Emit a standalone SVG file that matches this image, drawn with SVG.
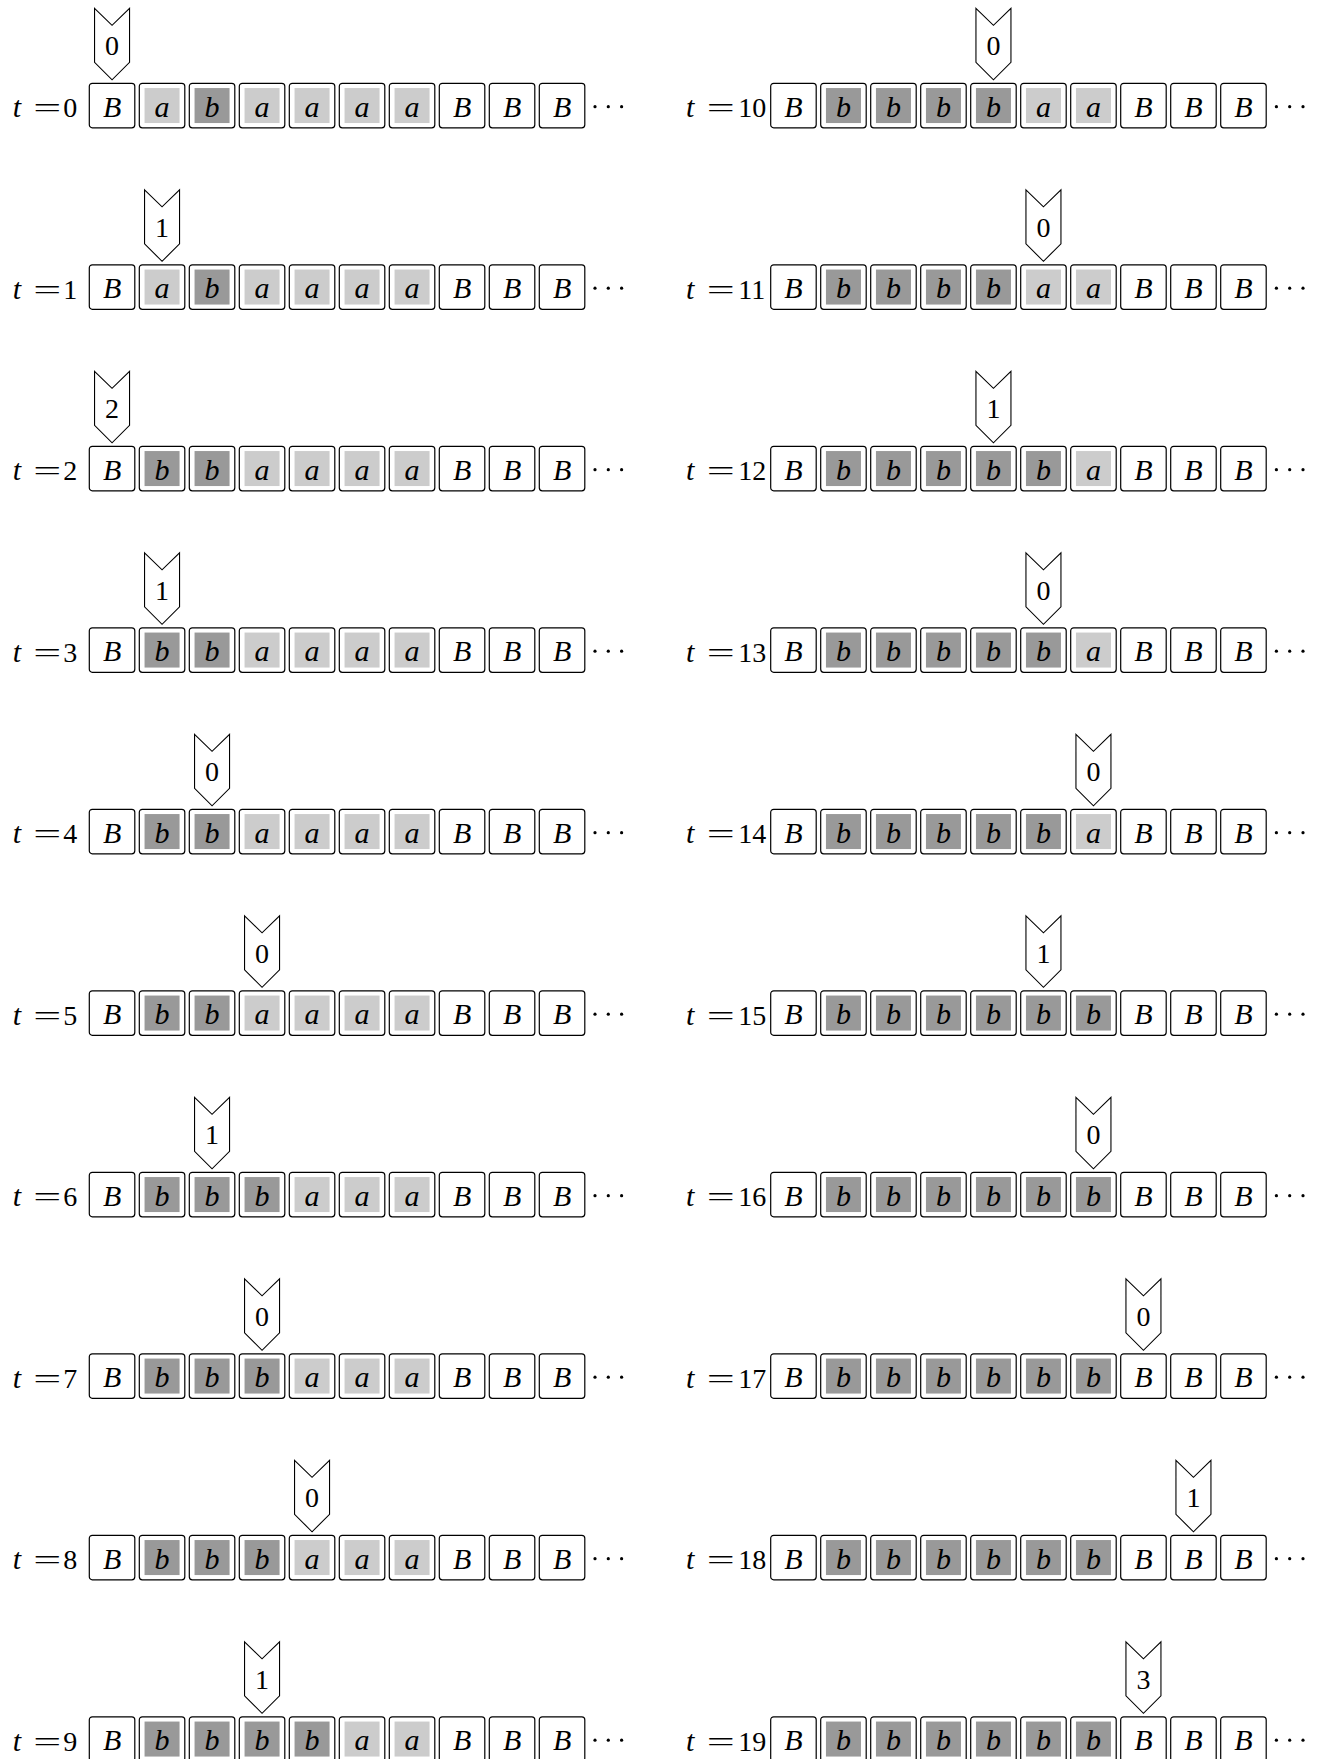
<svg xmlns="http://www.w3.org/2000/svg" xmlns:xlink="http://www.w3.org/1999/xlink" width="1326" height="1759" viewBox="0 0 1326 1759">
<style>
.box{fill:#fff;stroke:#000;stroke-width:1.2}
.fa{fill:#cccccc}
.fb{fill:#999999}
.ptr{fill:#fff;stroke:#000;stroke-width:1.1;stroke-linejoin:miter}
text{font-family:"Liberation Serif","DejaVu Serif",serif;font-size:28px;fill:#000}
.s{font-style:italic;text-anchor:middle;font-size:30px}
.it{font-style:italic;font-size:30px}
.mid{text-anchor:middle}
.dot{fill:#000}
</style>
<defs>
<g id="tape">
<rect class="box" x="0" y="0" width="45.5" height="44.5" rx="3"/>
<rect class="box" x="50" y="0" width="45.5" height="44.5" rx="3"/>
<rect class="box" x="100" y="0" width="45.5" height="44.5" rx="3"/>
<rect class="box" x="150" y="0" width="45.5" height="44.5" rx="3"/>
<rect class="box" x="200" y="0" width="45.5" height="44.5" rx="3"/>
<rect class="box" x="250" y="0" width="45.5" height="44.5" rx="3"/>
<rect class="box" x="300" y="0" width="45.5" height="44.5" rx="3"/>
<rect class="box" x="350" y="0" width="45.5" height="44.5" rx="3"/>
<rect class="box" x="400" y="0" width="45.5" height="44.5" rx="3"/>
<rect class="box" x="450" y="0" width="45.5" height="44.5" rx="3"/>
</g>
<rect id="ia" class="fa" x="5.25" y="4.75" width="35" height="35"/>
<rect id="ib" class="fb" x="5.25" y="4.75" width="35" height="35"/>
<g id="dots" class="dot"><circle cx="505.7" cy="23.4" r="1.6"/><circle cx="519" cy="23.4" r="1.6"/><circle cx="532.3" cy="23.4" r="1.6"/></g>
<polygon id="ptr" class="ptr" points="5.25,-75 22.75,-58 40.25,-75 40.25,-21 22.75,-3.5 5.25,-21"/>
</defs>

<g id="row-t0" transform="translate(89.3,83.3)">
<text class="it" x="-76.6" y="34">t</text><text x="-56" y="34" textLength="28" lengthAdjust="spacingAndGlyphs">=</text><text x="-26" y="34">0</text>
<use href="#tape"/>
<use href="#ia" x="50"/><use href="#ib" x="100"/><use href="#ia" x="150"/><use href="#ia" x="200"/><use href="#ia" x="250"/><use href="#ia" x="300"/>
<text class="s" x="22.75" y="33.5">B</text><text class="s" x="72.75" y="33.5">a</text><text class="s" x="122.75" y="33.5">b</text><text class="s" x="172.75" y="33.5">a</text><text class="s" x="222.75" y="33.5">a</text><text class="s" x="272.75" y="33.5">a</text><text class="s" x="322.75" y="33.5">a</text><text class="s" x="372.75" y="33.5">B</text><text class="s" x="422.75" y="33.5">B</text><text class="s" x="472.75" y="33.5">B</text>
<use href="#dots"/>
<g id="head-t0" transform="translate(0,0)"><use href="#ptr"/><text class="mid" x="22.75" y="-28.3">0</text></g>
</g>

<g id="row-t1" transform="translate(89.3,264.8)">
<text class="it" x="-76.6" y="34">t</text><text x="-56" y="34" textLength="28" lengthAdjust="spacingAndGlyphs">=</text><text x="-26" y="34">1</text>
<use href="#tape"/>
<use href="#ia" x="50"/><use href="#ib" x="100"/><use href="#ia" x="150"/><use href="#ia" x="200"/><use href="#ia" x="250"/><use href="#ia" x="300"/>
<text class="s" x="22.75" y="33.5">B</text><text class="s" x="72.75" y="33.5">a</text><text class="s" x="122.75" y="33.5">b</text><text class="s" x="172.75" y="33.5">a</text><text class="s" x="222.75" y="33.5">a</text><text class="s" x="272.75" y="33.5">a</text><text class="s" x="322.75" y="33.5">a</text><text class="s" x="372.75" y="33.5">B</text><text class="s" x="422.75" y="33.5">B</text><text class="s" x="472.75" y="33.5">B</text>
<use href="#dots"/>
<g id="head-t1" transform="translate(50,0)"><use href="#ptr"/><text class="mid" x="22.75" y="-28.3">1</text></g>
</g>

<g id="row-t2" transform="translate(89.3,446.3)">
<text class="it" x="-76.6" y="34">t</text><text x="-56" y="34" textLength="28" lengthAdjust="spacingAndGlyphs">=</text><text x="-26" y="34">2</text>
<use href="#tape"/>
<use href="#ib" x="50"/><use href="#ib" x="100"/><use href="#ia" x="150"/><use href="#ia" x="200"/><use href="#ia" x="250"/><use href="#ia" x="300"/>
<text class="s" x="22.75" y="33.5">B</text><text class="s" x="72.75" y="33.5">b</text><text class="s" x="122.75" y="33.5">b</text><text class="s" x="172.75" y="33.5">a</text><text class="s" x="222.75" y="33.5">a</text><text class="s" x="272.75" y="33.5">a</text><text class="s" x="322.75" y="33.5">a</text><text class="s" x="372.75" y="33.5">B</text><text class="s" x="422.75" y="33.5">B</text><text class="s" x="472.75" y="33.5">B</text>
<use href="#dots"/>
<g id="head-t2" transform="translate(0,0)"><use href="#ptr"/><text class="mid" x="22.75" y="-28.3">2</text></g>
</g>

<g id="row-t3" transform="translate(89.3,627.8)">
<text class="it" x="-76.6" y="34">t</text><text x="-56" y="34" textLength="28" lengthAdjust="spacingAndGlyphs">=</text><text x="-26" y="34">3</text>
<use href="#tape"/>
<use href="#ib" x="50"/><use href="#ib" x="100"/><use href="#ia" x="150"/><use href="#ia" x="200"/><use href="#ia" x="250"/><use href="#ia" x="300"/>
<text class="s" x="22.75" y="33.5">B</text><text class="s" x="72.75" y="33.5">b</text><text class="s" x="122.75" y="33.5">b</text><text class="s" x="172.75" y="33.5">a</text><text class="s" x="222.75" y="33.5">a</text><text class="s" x="272.75" y="33.5">a</text><text class="s" x="322.75" y="33.5">a</text><text class="s" x="372.75" y="33.5">B</text><text class="s" x="422.75" y="33.5">B</text><text class="s" x="472.75" y="33.5">B</text>
<use href="#dots"/>
<g id="head-t3" transform="translate(50,0)"><use href="#ptr"/><text class="mid" x="22.75" y="-28.3">1</text></g>
</g>

<g id="row-t4" transform="translate(89.3,809.3)">
<text class="it" x="-76.6" y="34">t</text><text x="-56" y="34" textLength="28" lengthAdjust="spacingAndGlyphs">=</text><text x="-26" y="34">4</text>
<use href="#tape"/>
<use href="#ib" x="50"/><use href="#ib" x="100"/><use href="#ia" x="150"/><use href="#ia" x="200"/><use href="#ia" x="250"/><use href="#ia" x="300"/>
<text class="s" x="22.75" y="33.5">B</text><text class="s" x="72.75" y="33.5">b</text><text class="s" x="122.75" y="33.5">b</text><text class="s" x="172.75" y="33.5">a</text><text class="s" x="222.75" y="33.5">a</text><text class="s" x="272.75" y="33.5">a</text><text class="s" x="322.75" y="33.5">a</text><text class="s" x="372.75" y="33.5">B</text><text class="s" x="422.75" y="33.5">B</text><text class="s" x="472.75" y="33.5">B</text>
<use href="#dots"/>
<g id="head-t4" transform="translate(100,0)"><use href="#ptr"/><text class="mid" x="22.75" y="-28.3">0</text></g>
</g>

<g id="row-t5" transform="translate(89.3,990.8)">
<text class="it" x="-76.6" y="34">t</text><text x="-56" y="34" textLength="28" lengthAdjust="spacingAndGlyphs">=</text><text x="-26" y="34">5</text>
<use href="#tape"/>
<use href="#ib" x="50"/><use href="#ib" x="100"/><use href="#ia" x="150"/><use href="#ia" x="200"/><use href="#ia" x="250"/><use href="#ia" x="300"/>
<text class="s" x="22.75" y="33.5">B</text><text class="s" x="72.75" y="33.5">b</text><text class="s" x="122.75" y="33.5">b</text><text class="s" x="172.75" y="33.5">a</text><text class="s" x="222.75" y="33.5">a</text><text class="s" x="272.75" y="33.5">a</text><text class="s" x="322.75" y="33.5">a</text><text class="s" x="372.75" y="33.5">B</text><text class="s" x="422.75" y="33.5">B</text><text class="s" x="472.75" y="33.5">B</text>
<use href="#dots"/>
<g id="head-t5" transform="translate(150,0)"><use href="#ptr"/><text class="mid" x="22.75" y="-28.3">0</text></g>
</g>

<g id="row-t6" transform="translate(89.3,1172.3)">
<text class="it" x="-76.6" y="34">t</text><text x="-56" y="34" textLength="28" lengthAdjust="spacingAndGlyphs">=</text><text x="-26" y="34">6</text>
<use href="#tape"/>
<use href="#ib" x="50"/><use href="#ib" x="100"/><use href="#ib" x="150"/><use href="#ia" x="200"/><use href="#ia" x="250"/><use href="#ia" x="300"/>
<text class="s" x="22.75" y="33.5">B</text><text class="s" x="72.75" y="33.5">b</text><text class="s" x="122.75" y="33.5">b</text><text class="s" x="172.75" y="33.5">b</text><text class="s" x="222.75" y="33.5">a</text><text class="s" x="272.75" y="33.5">a</text><text class="s" x="322.75" y="33.5">a</text><text class="s" x="372.75" y="33.5">B</text><text class="s" x="422.75" y="33.5">B</text><text class="s" x="472.75" y="33.5">B</text>
<use href="#dots"/>
<g id="head-t6" transform="translate(100,0)"><use href="#ptr"/><text class="mid" x="22.75" y="-28.3">1</text></g>
</g>

<g id="row-t7" transform="translate(89.3,1353.8)">
<text class="it" x="-76.6" y="34">t</text><text x="-56" y="34" textLength="28" lengthAdjust="spacingAndGlyphs">=</text><text x="-26" y="34">7</text>
<use href="#tape"/>
<use href="#ib" x="50"/><use href="#ib" x="100"/><use href="#ib" x="150"/><use href="#ia" x="200"/><use href="#ia" x="250"/><use href="#ia" x="300"/>
<text class="s" x="22.75" y="33.5">B</text><text class="s" x="72.75" y="33.5">b</text><text class="s" x="122.75" y="33.5">b</text><text class="s" x="172.75" y="33.5">b</text><text class="s" x="222.75" y="33.5">a</text><text class="s" x="272.75" y="33.5">a</text><text class="s" x="322.75" y="33.5">a</text><text class="s" x="372.75" y="33.5">B</text><text class="s" x="422.75" y="33.5">B</text><text class="s" x="472.75" y="33.5">B</text>
<use href="#dots"/>
<g id="head-t7" transform="translate(150,0)"><use href="#ptr"/><text class="mid" x="22.75" y="-28.3">0</text></g>
</g>

<g id="row-t8" transform="translate(89.3,1535.3)">
<text class="it" x="-76.6" y="34">t</text><text x="-56" y="34" textLength="28" lengthAdjust="spacingAndGlyphs">=</text><text x="-26" y="34">8</text>
<use href="#tape"/>
<use href="#ib" x="50"/><use href="#ib" x="100"/><use href="#ib" x="150"/><use href="#ia" x="200"/><use href="#ia" x="250"/><use href="#ia" x="300"/>
<text class="s" x="22.75" y="33.5">B</text><text class="s" x="72.75" y="33.5">b</text><text class="s" x="122.75" y="33.5">b</text><text class="s" x="172.75" y="33.5">b</text><text class="s" x="222.75" y="33.5">a</text><text class="s" x="272.75" y="33.5">a</text><text class="s" x="322.75" y="33.5">a</text><text class="s" x="372.75" y="33.5">B</text><text class="s" x="422.75" y="33.5">B</text><text class="s" x="472.75" y="33.5">B</text>
<use href="#dots"/>
<g id="head-t8" transform="translate(200,0)"><use href="#ptr"/><text class="mid" x="22.75" y="-28.3">0</text></g>
</g>

<g id="row-t9" transform="translate(89.3,1716.8)">
<text class="it" x="-76.6" y="34">t</text><text x="-56" y="34" textLength="28" lengthAdjust="spacingAndGlyphs">=</text><text x="-26" y="34">9</text>
<use href="#tape"/>
<use href="#ib" x="50"/><use href="#ib" x="100"/><use href="#ib" x="150"/><use href="#ib" x="200"/><use href="#ia" x="250"/><use href="#ia" x="300"/>
<text class="s" x="22.75" y="33.5">B</text><text class="s" x="72.75" y="33.5">b</text><text class="s" x="122.75" y="33.5">b</text><text class="s" x="172.75" y="33.5">b</text><text class="s" x="222.75" y="33.5">b</text><text class="s" x="272.75" y="33.5">a</text><text class="s" x="322.75" y="33.5">a</text><text class="s" x="372.75" y="33.5">B</text><text class="s" x="422.75" y="33.5">B</text><text class="s" x="472.75" y="33.5">B</text>
<use href="#dots"/>
<g id="head-t9" transform="translate(150,0)"><use href="#ptr"/><text class="mid" x="22.75" y="-28.3">1</text></g>
</g>

<g id="row-t10" transform="translate(770.7,83.3)">
<text class="it" x="-84.7" y="34">t</text><text x="-64" y="34" textLength="28" lengthAdjust="spacingAndGlyphs">=</text><text x="-32.4" y="34">10</text>
<use href="#tape"/>
<use href="#ib" x="50"/><use href="#ib" x="100"/><use href="#ib" x="150"/><use href="#ib" x="200"/><use href="#ia" x="250"/><use href="#ia" x="300"/>
<text class="s" x="22.75" y="33.5">B</text><text class="s" x="72.75" y="33.5">b</text><text class="s" x="122.75" y="33.5">b</text><text class="s" x="172.75" y="33.5">b</text><text class="s" x="222.75" y="33.5">b</text><text class="s" x="272.75" y="33.5">a</text><text class="s" x="322.75" y="33.5">a</text><text class="s" x="372.75" y="33.5">B</text><text class="s" x="422.75" y="33.5">B</text><text class="s" x="472.75" y="33.5">B</text>
<use href="#dots"/>
<g id="head-t10" transform="translate(200,0)"><use href="#ptr"/><text class="mid" x="22.75" y="-28.3">0</text></g>
</g>

<g id="row-t11" transform="translate(770.7,264.8)">
<text class="it" x="-84.7" y="34">t</text><text x="-64" y="34" textLength="28" lengthAdjust="spacingAndGlyphs">=</text><text x="-32.4" y="34">11</text>
<use href="#tape"/>
<use href="#ib" x="50"/><use href="#ib" x="100"/><use href="#ib" x="150"/><use href="#ib" x="200"/><use href="#ia" x="250"/><use href="#ia" x="300"/>
<text class="s" x="22.75" y="33.5">B</text><text class="s" x="72.75" y="33.5">b</text><text class="s" x="122.75" y="33.5">b</text><text class="s" x="172.75" y="33.5">b</text><text class="s" x="222.75" y="33.5">b</text><text class="s" x="272.75" y="33.5">a</text><text class="s" x="322.75" y="33.5">a</text><text class="s" x="372.75" y="33.5">B</text><text class="s" x="422.75" y="33.5">B</text><text class="s" x="472.75" y="33.5">B</text>
<use href="#dots"/>
<g id="head-t11" transform="translate(250,0)"><use href="#ptr"/><text class="mid" x="22.75" y="-28.3">0</text></g>
</g>

<g id="row-t12" transform="translate(770.7,446.3)">
<text class="it" x="-84.7" y="34">t</text><text x="-64" y="34" textLength="28" lengthAdjust="spacingAndGlyphs">=</text><text x="-32.4" y="34">12</text>
<use href="#tape"/>
<use href="#ib" x="50"/><use href="#ib" x="100"/><use href="#ib" x="150"/><use href="#ib" x="200"/><use href="#ib" x="250"/><use href="#ia" x="300"/>
<text class="s" x="22.75" y="33.5">B</text><text class="s" x="72.75" y="33.5">b</text><text class="s" x="122.75" y="33.5">b</text><text class="s" x="172.75" y="33.5">b</text><text class="s" x="222.75" y="33.5">b</text><text class="s" x="272.75" y="33.5">b</text><text class="s" x="322.75" y="33.5">a</text><text class="s" x="372.75" y="33.5">B</text><text class="s" x="422.75" y="33.5">B</text><text class="s" x="472.75" y="33.5">B</text>
<use href="#dots"/>
<g id="head-t12" transform="translate(200,0)"><use href="#ptr"/><text class="mid" x="22.75" y="-28.3">1</text></g>
</g>

<g id="row-t13" transform="translate(770.7,627.8)">
<text class="it" x="-84.7" y="34">t</text><text x="-64" y="34" textLength="28" lengthAdjust="spacingAndGlyphs">=</text><text x="-32.4" y="34">13</text>
<use href="#tape"/>
<use href="#ib" x="50"/><use href="#ib" x="100"/><use href="#ib" x="150"/><use href="#ib" x="200"/><use href="#ib" x="250"/><use href="#ia" x="300"/>
<text class="s" x="22.75" y="33.5">B</text><text class="s" x="72.75" y="33.5">b</text><text class="s" x="122.75" y="33.5">b</text><text class="s" x="172.75" y="33.5">b</text><text class="s" x="222.75" y="33.5">b</text><text class="s" x="272.75" y="33.5">b</text><text class="s" x="322.75" y="33.5">a</text><text class="s" x="372.75" y="33.5">B</text><text class="s" x="422.75" y="33.5">B</text><text class="s" x="472.75" y="33.5">B</text>
<use href="#dots"/>
<g id="head-t13" transform="translate(250,0)"><use href="#ptr"/><text class="mid" x="22.75" y="-28.3">0</text></g>
</g>

<g id="row-t14" transform="translate(770.7,809.3)">
<text class="it" x="-84.7" y="34">t</text><text x="-64" y="34" textLength="28" lengthAdjust="spacingAndGlyphs">=</text><text x="-32.4" y="34">14</text>
<use href="#tape"/>
<use href="#ib" x="50"/><use href="#ib" x="100"/><use href="#ib" x="150"/><use href="#ib" x="200"/><use href="#ib" x="250"/><use href="#ia" x="300"/>
<text class="s" x="22.75" y="33.5">B</text><text class="s" x="72.75" y="33.5">b</text><text class="s" x="122.75" y="33.5">b</text><text class="s" x="172.75" y="33.5">b</text><text class="s" x="222.75" y="33.5">b</text><text class="s" x="272.75" y="33.5">b</text><text class="s" x="322.75" y="33.5">a</text><text class="s" x="372.75" y="33.5">B</text><text class="s" x="422.75" y="33.5">B</text><text class="s" x="472.75" y="33.5">B</text>
<use href="#dots"/>
<g id="head-t14" transform="translate(300,0)"><use href="#ptr"/><text class="mid" x="22.75" y="-28.3">0</text></g>
</g>

<g id="row-t15" transform="translate(770.7,990.8)">
<text class="it" x="-84.7" y="34">t</text><text x="-64" y="34" textLength="28" lengthAdjust="spacingAndGlyphs">=</text><text x="-32.4" y="34">15</text>
<use href="#tape"/>
<use href="#ib" x="50"/><use href="#ib" x="100"/><use href="#ib" x="150"/><use href="#ib" x="200"/><use href="#ib" x="250"/><use href="#ib" x="300"/>
<text class="s" x="22.75" y="33.5">B</text><text class="s" x="72.75" y="33.5">b</text><text class="s" x="122.75" y="33.5">b</text><text class="s" x="172.75" y="33.5">b</text><text class="s" x="222.75" y="33.5">b</text><text class="s" x="272.75" y="33.5">b</text><text class="s" x="322.75" y="33.5">b</text><text class="s" x="372.75" y="33.5">B</text><text class="s" x="422.75" y="33.5">B</text><text class="s" x="472.75" y="33.5">B</text>
<use href="#dots"/>
<g id="head-t15" transform="translate(250,0)"><use href="#ptr"/><text class="mid" x="22.75" y="-28.3">1</text></g>
</g>

<g id="row-t16" transform="translate(770.7,1172.3)">
<text class="it" x="-84.7" y="34">t</text><text x="-64" y="34" textLength="28" lengthAdjust="spacingAndGlyphs">=</text><text x="-32.4" y="34">16</text>
<use href="#tape"/>
<use href="#ib" x="50"/><use href="#ib" x="100"/><use href="#ib" x="150"/><use href="#ib" x="200"/><use href="#ib" x="250"/><use href="#ib" x="300"/>
<text class="s" x="22.75" y="33.5">B</text><text class="s" x="72.75" y="33.5">b</text><text class="s" x="122.75" y="33.5">b</text><text class="s" x="172.75" y="33.5">b</text><text class="s" x="222.75" y="33.5">b</text><text class="s" x="272.75" y="33.5">b</text><text class="s" x="322.75" y="33.5">b</text><text class="s" x="372.75" y="33.5">B</text><text class="s" x="422.75" y="33.5">B</text><text class="s" x="472.75" y="33.5">B</text>
<use href="#dots"/>
<g id="head-t16" transform="translate(300,0)"><use href="#ptr"/><text class="mid" x="22.75" y="-28.3">0</text></g>
</g>

<g id="row-t17" transform="translate(770.7,1353.8)">
<text class="it" x="-84.7" y="34">t</text><text x="-64" y="34" textLength="28" lengthAdjust="spacingAndGlyphs">=</text><text x="-32.4" y="34">17</text>
<use href="#tape"/>
<use href="#ib" x="50"/><use href="#ib" x="100"/><use href="#ib" x="150"/><use href="#ib" x="200"/><use href="#ib" x="250"/><use href="#ib" x="300"/>
<text class="s" x="22.75" y="33.5">B</text><text class="s" x="72.75" y="33.5">b</text><text class="s" x="122.75" y="33.5">b</text><text class="s" x="172.75" y="33.5">b</text><text class="s" x="222.75" y="33.5">b</text><text class="s" x="272.75" y="33.5">b</text><text class="s" x="322.75" y="33.5">b</text><text class="s" x="372.75" y="33.5">B</text><text class="s" x="422.75" y="33.5">B</text><text class="s" x="472.75" y="33.5">B</text>
<use href="#dots"/>
<g id="head-t17" transform="translate(350,0)"><use href="#ptr"/><text class="mid" x="22.75" y="-28.3">0</text></g>
</g>

<g id="row-t18" transform="translate(770.7,1535.3)">
<text class="it" x="-84.7" y="34">t</text><text x="-64" y="34" textLength="28" lengthAdjust="spacingAndGlyphs">=</text><text x="-32.4" y="34">18</text>
<use href="#tape"/>
<use href="#ib" x="50"/><use href="#ib" x="100"/><use href="#ib" x="150"/><use href="#ib" x="200"/><use href="#ib" x="250"/><use href="#ib" x="300"/>
<text class="s" x="22.75" y="33.5">B</text><text class="s" x="72.75" y="33.5">b</text><text class="s" x="122.75" y="33.5">b</text><text class="s" x="172.75" y="33.5">b</text><text class="s" x="222.75" y="33.5">b</text><text class="s" x="272.75" y="33.5">b</text><text class="s" x="322.75" y="33.5">b</text><text class="s" x="372.75" y="33.5">B</text><text class="s" x="422.75" y="33.5">B</text><text class="s" x="472.75" y="33.5">B</text>
<use href="#dots"/>
<g id="head-t18" transform="translate(400,0)"><use href="#ptr"/><text class="mid" x="22.75" y="-28.3">1</text></g>
</g>

<g id="row-t19" transform="translate(770.7,1716.8)">
<text class="it" x="-84.7" y="34">t</text><text x="-64" y="34" textLength="28" lengthAdjust="spacingAndGlyphs">=</text><text x="-32.4" y="34">19</text>
<use href="#tape"/>
<use href="#ib" x="50"/><use href="#ib" x="100"/><use href="#ib" x="150"/><use href="#ib" x="200"/><use href="#ib" x="250"/><use href="#ib" x="300"/>
<text class="s" x="22.75" y="33.5">B</text><text class="s" x="72.75" y="33.5">b</text><text class="s" x="122.75" y="33.5">b</text><text class="s" x="172.75" y="33.5">b</text><text class="s" x="222.75" y="33.5">b</text><text class="s" x="272.75" y="33.5">b</text><text class="s" x="322.75" y="33.5">b</text><text class="s" x="372.75" y="33.5">B</text><text class="s" x="422.75" y="33.5">B</text><text class="s" x="472.75" y="33.5">B</text>
<use href="#dots"/>
<g id="head-t19" transform="translate(350,0)"><use href="#ptr"/><text class="mid" x="22.75" y="-28.3">3</text></g>
</g>
</svg>
